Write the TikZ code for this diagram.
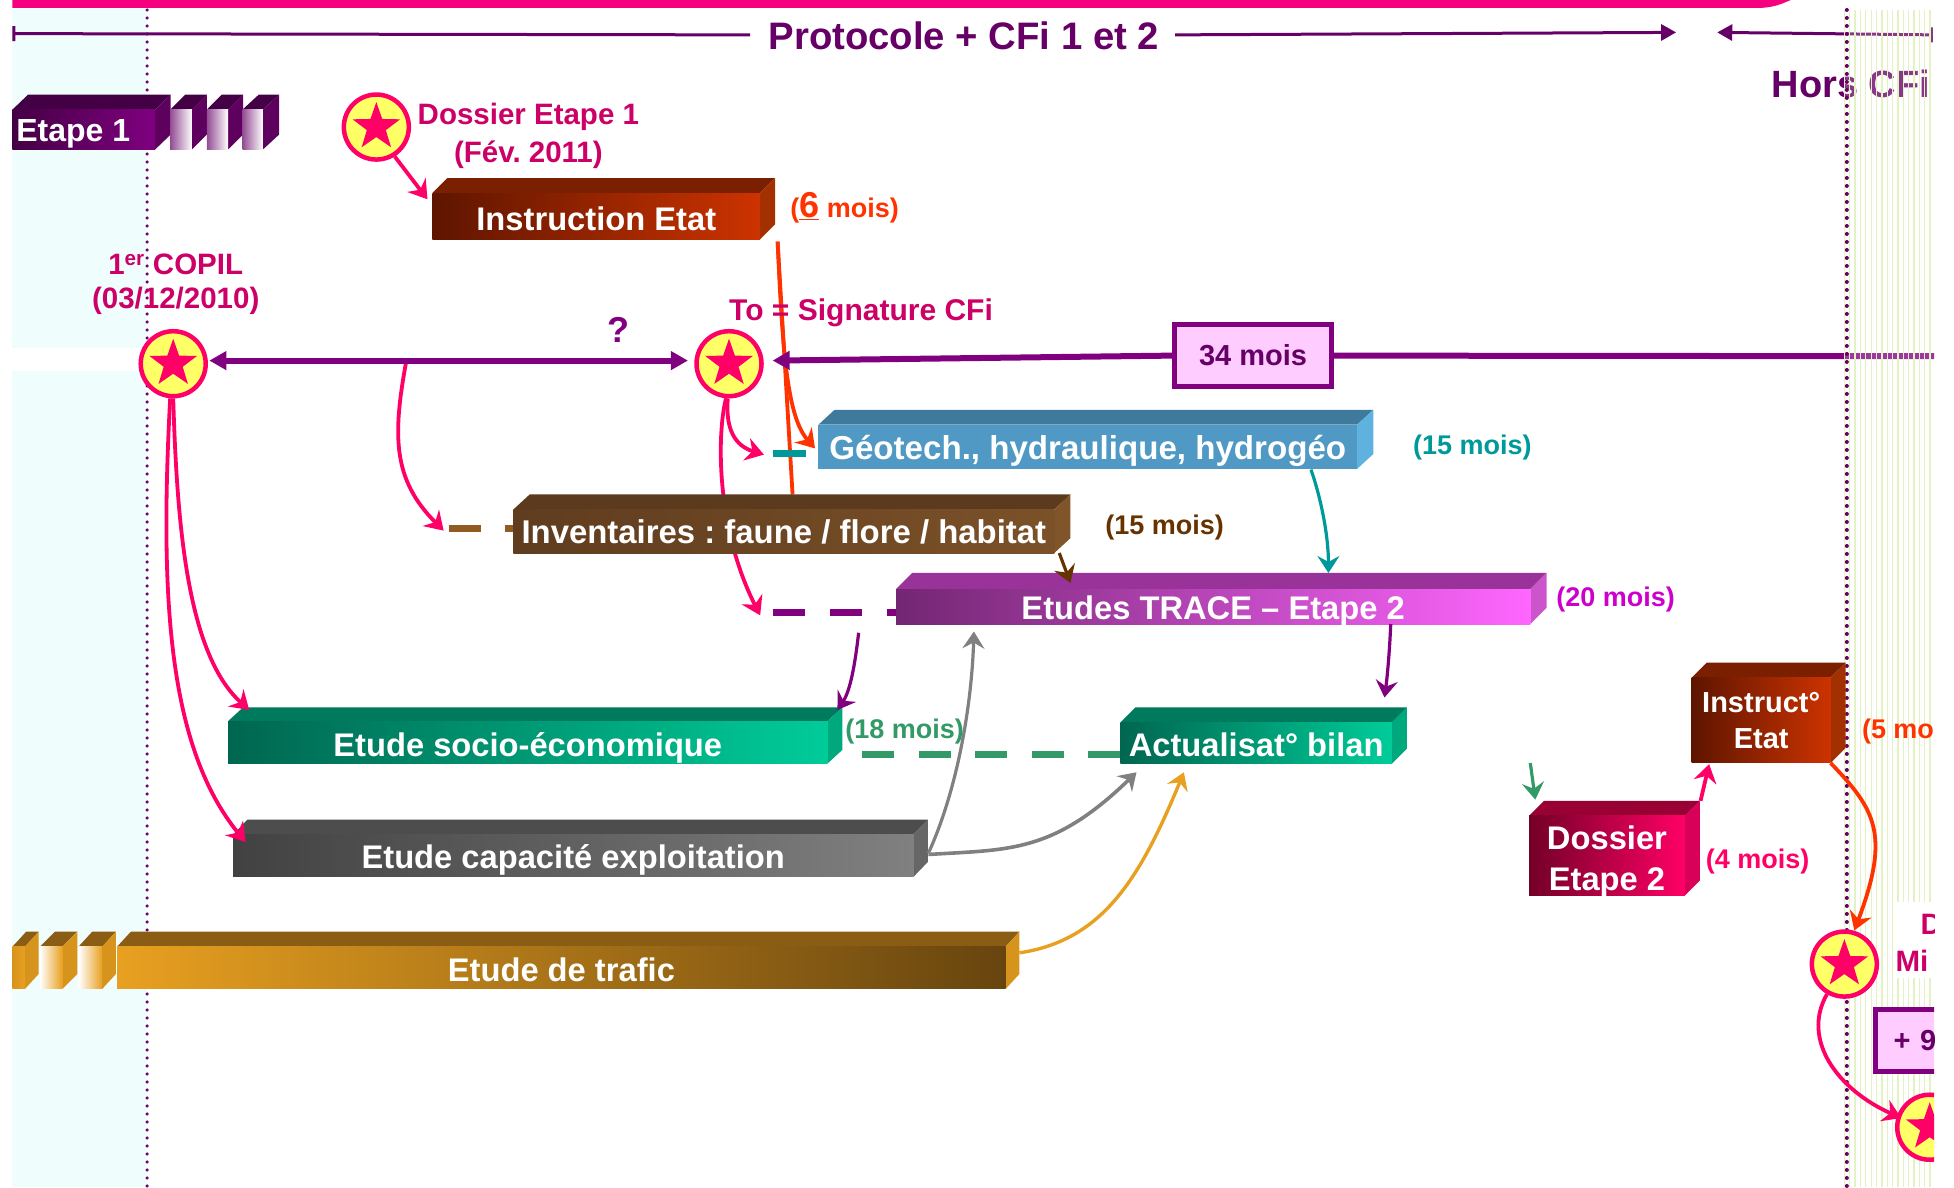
\documentclass[tikz,border=0pt]{standalone}
\usepackage{fontspec}
\setmainfont{Liberation Sans}
\usetikzlibrary{arrows.meta,shapes.geometric,calc}
\definecolor{cfiPink}{HTML}{FF0066}
\definecolor{cfiBarPink}{HTML}{F5007F}
\definecolor{cfiCrimson}{HTML}{CC0066}
\definecolor{cfiPlum}{HTML}{660066}
\definecolor{cfiPurple}{HTML}{800080}
\definecolor{cfiOrange}{HTML}{FF3300}
\definecolor{cfiTeal}{HTML}{009999}
\definecolor{cfiBrown}{HTML}{663300}
\definecolor{cfiGreen}{HTML}{339966}
\definecolor{cfiGold}{HTML}{E8A020}
\definecolor{cfiGray}{HTML}{808080}
\definecolor{cfiLilac}{HTML}{FFCCFF}
\definecolor{cfiViolet}{HTML}{CC00CC}
\definecolor{cfiYellow}{HTML}{FFFF66}
\definecolor{cfiCyan}{HTML}{EFFDFD}
\definecolor{cfiStripe}{HTML}{E4F1C2}
% face colours: T = top, S = side
\definecolor{instrT}{HTML}{7A2000}\definecolor{instrS}{HTML}{A33000}
\definecolor{geoT}{HTML}{3F7A9C}\definecolor{geoS}{HTML}{5FB2E0}
\definecolor{invT}{HTML}{5C3A1E}\definecolor{invS}{HTML}{80552A}
\definecolor{traceT}{HTML}{993399}\definecolor{traceS}{HTML}{CC55CC}
\definecolor{socioT}{HTML}{007A5C}\definecolor{socioS}{HTML}{00A87E}
\definecolor{capaT}{HTML}{4D4D4D}\definecolor{capaS}{HTML}{666666}
\definecolor{trafT}{HTML}{8A5C14}\definecolor{trafS}{HTML}{D6941C}
\definecolor{dosT}{HTML}{990033}\definecolor{dosS}{HTML}{D9005A}
\definecolor{etapT}{HTML}{440044}\definecolor{etapS}{HTML}{5E005E}
\definecolor{instrL}{HTML}{5E1500}\definecolor{instrR}{HTML}{CC3300}
\definecolor{geoF}{HTML}{4F99C4}
\definecolor{traceR}{HTML}{FF66FF}
\definecolor{socioL}{HTML}{006650}\definecolor{socioR}{HTML}{00CC99}
\newcommand\fs[1]{\fontsize{#1}{#1}\selectfont}
\newcommand\bshift{0}
\tikzset{
  instr/.style={shading=axis,left color=instrL,right color=instrR},
  geo/.style={fill=geoF},
  inv/.style={shading=axis,left color=invT!90!invS,right color=invS!85!invT},
  trace/.style={shading=axis,left color=traceT!75!black,middle color=traceT!80!traceS,right color=traceR},
  socio/.style={shading=axis,left color=socioL,right color=socioR},
  capa/.style={shading=axis,left color=capaT!85!black,right color=cfiGray},
  traf/.style={shading=axis,left color=cfiGold,middle color=cfiGold!75!trafT,right color=trafT!75!black},
  dos/.style={shading=axis,left color=dosT!75!black,right color=cfiPink},
  etap/.style={shading=axis,left color=etapT,right color=cfiPurple},
  barlabel/.style={text=white,font=\bfseries\fs{32.7},inner sep=0pt,align=center},
  smalllabel/.style={font=\bfseries\fs{27},inner sep=0pt},
  milestonetext/.style={text=cfiCrimson,font=\bfseries\fs{29.5},inner sep=0pt,align=center},
  disc/.style={circle,draw=cfiPink,line width=4.5pt,fill=cfiYellow,minimum size=65pt,inner sep=0pt},
  starmark/.style={star,star points=5,star point ratio=2.5,fill=cfiPink,minimum size=50pt,inner sep=0pt},
  durationbox/.style={draw=cfiPurple,line width=5pt,fill=cfiLilac,inner sep=0pt,text=cfiPlum,font=\bfseries\fs{29}},
  pinkarrow/.style={draw=cfiPink,line width=3.8pt,-{Stealth[length=18pt,width=23pt,inset=6pt]}},
  orangearrow/.style={draw=cfiOrange,line width=3.8pt,-{Stealth[length=18pt,width=23pt,inset=6pt]}},
  thinarrow/.style={line width=3.2pt,-{Stealth[length=17pt,width=22pt,inset=6pt]}},
  thickline/.style={draw=cfiPurple,line width=6pt},
  headline/.style={draw=cfiPlum,line width=3pt},
  cfidash/.style={line width=7pt},
  dotline/.style={draw=cfiPlum,line cap=round,dash pattern=on 0pt off 8pt},
  fadestripe/.style={draw=cfiStripe,line width=1.3pt},
}
% name, style, x0, x1, xside, ytop, yfront, ybottom, text
\newcommand\barbox[9]{%
  \fill[#2T] (#3,#7) -- (#3+#5-#4,#6) -- (#5,#6) -- (#4,#7) -- cycle;
  \fill[#2S] (#4,#7) -- (#5,#6) -- (#5,#8-#7+#6) -- (#4,#8) -- cycle;
  \path[#2] (#3,#7) rectangle (#4,#8);
  \node[barlabel] (#1) at ({(#3+#4)/2},{(#7+#8)/2+\bshift}) {#9};
}
\begin{document}
\frenchspacing
\begin{tikzpicture}[x=1.24617pt,y=-1.24554pt]
\useasboundingbox (0,0) rectangle (1568,953);
\begin{scope}
\clip (0,0) rectangle (1552,953);
% background bands
\fill[cfiCyan] (10,7) rectangle (118,279);
\fill[cfiCyan] (10,298) rectangle (118,953);
% top bar
\fill[cfiBarPink] (10,0) -- (1437,0) .. controls (1428,4) and (1422,6) .. (1412,6.4) -- (10,6.4) -- cycle;
% headline
\coordinate (headA) at (10,27);
\coordinate (headB) at (602,28);
\coordinate (headC) at (943,28);
\coordinate (headD) at (1345,26);
\coordinate (headE) at (1378,26);
\coordinate (headF) at (1551,28);
\draw[headline,{Bar[width=15pt]}-] (headA) -- (headB);
\draw[headline,-{Triangle[length=15pt,width=16pt]}] (headC) -- (headD);
\draw[headline,{Bar[width=15pt]}-{Triangle[length=15pt,width=16pt]}] (headF) -- (headE);
\node[inner sep=0pt,text=cfiPlum,font=\bfseries\fs{38.3}] (title) at (773.5,29) {Protocole + CFi 1 et 2};
\node[inner sep=0pt,text=cfiPlum,font=\bfseries\fs{38},anchor=east] (hors) at (1549,67) {Hors CFi};
% 34 months line, behind the band
\node[durationbox,minimum width=157pt,minimum height=62pt] (months) at (1005.5,285.5) {\raisebox{-1.5pt}{34 mois}};
\coordinate (lineEnd) at (1552,286);
\draw[thickline] (months.east) -- (lineEnd);
% right band
\fill[white,opacity=.22] (1480,8) rectangle (1552,953);
\foreach \x in {1480,1484.3,...,1552} \draw[fadestripe] (\x,8) -- (\x,953);
\fill[white] (1522,724) rectangle (1552,785);
% dotted verticals
\coordinate (dotLa) at (118,8);
\coordinate (dotLb) at (118,953);
\coordinate (dotRa) at (1482,8);
\coordinate (dotRb) at (1482,953);
\draw[dotline,line width=3.5pt] (dotLa) -- (dotLb);
\draw[dotline,line width=4pt] (dotRa) -- (dotRb);
% milestones
\node[disc] (s1) at (302,102) {};
\node[disc] (s2) at (139,292) {};
\node[disc] (s3) at (585,292) {};
\node[disc] (s4) at (1480,774) {};
\node[disc] (s5) at (1548.5,905) {};
% orange lines from Instruction Etat
\coordinate (orgStart) at (624,194);
\coordinate (orgBar) at (636,397);
\coordinate (orgTip) at (654,360);
\draw[draw=cfiOrange,line width=3.8pt] (orgStart) -- (orgBar);
\draw[orangearrow] (orgStart) .. controls (628,285) and (632,335) .. (orgTip);
% long pink curves
\coordinate (pkSocio) at (200,570);
\coordinate (pkCapa) at (197,676);
\coordinate (pkA) at (326,290);
\coordinate (pkInv) at (356,426);
\coordinate (pkGeo) at (613,365);
\coordinate (pkTrace) at (610,494);
\coordinate (s1Tip) at (343,160);
\draw[pinkarrow] (s1.-58) -- (s1Tip);
\draw[pinkarrow] (pkA) .. controls (315,350) and (315,385) .. (pkInv);
\draw[pinkarrow] (s3.268) .. controls (582,345) and (590,358) .. (pkGeo);
\draw[pinkarrow] (s3.265) .. controls (575,350) and (575,425) .. (pkTrace);
% purple timing arrows
\coordinate (copilR) at (168,289.5);
\coordinate (toL) at (552,289.5);
\coordinate (toR) at (620,289.5);
\draw[thickline,{Triangle[length=17pt,width=18pt]}-{Triangle[length=17pt,width=18pt]}] (copilR) -- (toL);
\draw[thickline,{Triangle[length=17pt,width=18pt]}-] (toR) -- (months.west);
% dashes
\coordinate (brownDa) at (360,424);
\coordinate (brownDb) at (412,424);
\coordinate (tealDa) at (620,364);
\coordinate (tealDb) at (647,364);
\coordinate (purDa) at (620,492);
\coordinate (purDb) at (719,492);
\coordinate (greenDa) at (692,605.5);
\coordinate (greenDb) at (899,605.5);
\draw[cfidash,draw=invS!85!orange,dash pattern=on 32pt off 24pt] (brownDa) -- (brownDb);
\draw[cfidash,draw=cfiTeal] (tealDa) -- (tealDb);
\draw[cfidash,draw=cfiPurple,dash pattern=on 32pt off 25pt] (purDa) -- (purDb);
\draw[cfidash,draw=cfiGreen,dash pattern=on 32pt off 24.5pt] (greenDa) -- (greenDb);
% bars
\renewcommand\bshift{2.5}
\barbox{instrBar}{instr}{347}{610}{622}{143}{155}{192}{Instruction Etat}
\renewcommand\bshift{3.5}
\barbox{geoBar}{geo}{656.7}{1089}{1102}{329}{341}{376.5}{\fs{33.1}Géotech., hydraulique, hydrogéo}
\renewcommand\bshift{0.5}
\barbox{invBar}{inv}{412}{846}{859}{397}{409}{444}{\fs{32.9}Inventaires : faune / flore / habitat}
\renewcommand\bshift{3.5}
\barbox{traceBar}{trace}{719}{1228}{1241}{460}{473}{501}{Etudes TRACE – Etape 2}
\renewcommand\bshift{4.5}
\barbox{socioBar}{socio}{183}{664}{676}{568}{579}{613}{Etude socio-économique}
\renewcommand\bshift{3.5}
\barbox{capaBar}{capa}{187}{733}{744.6}{658}{670}{704}{Etude capacité exploitation}
\renewcommand\bshift{2}
\barbox{trafBar}{traf}{94}{807}{818}{748}{760}{794}{Etude de trafic}
\renewcommand\bshift{1.5}
\barbox{bilanBar}{socio}{899}{1117}{1129}{568}{580}{613}{Actualisat° bilan}
\renewcommand\bshift{4.5}
\barbox{dosBar}{dos}{1227}{1352}{1364}{643}{655}{719}{Dossier\\[8pt]Etape 2}
\renewcommand\bshift{0.5}
\barbox{instr2Bar}{instr}{1357.5}{1469}{1481}{532}{544}{612.5}{\fs{29}Instruct°\\[3pt]\fs{29}Etat}
\renewcommand\bshift{0}
% Etape 1 bar and its broken tail
\barbox{etapBar}{etap}{10}{124.5}{137}{76}{88}{120}{}
\foreach \a/\b/\c in {136.6/154/166,166/183/195,194.6/211/224}{
  \fill[etapT] (\a,88) -- (\a+\c-\b,76) -- (\c,76) -- (\b,88) -- cycle;
  \fill[etapS] (\b,88) -- (\c,76) -- (\c,108) -- (\b,120) -- cycle;
  \path[shading=axis,left color=cfiPlum!70!white,right color=white] (\a,88) rectangle (\b,120);
}
\node[inner sep=0pt,text=white,font=\bfseries\fs{32},anchor=west] (etapText) at (13,107.5) {Etape 1};
% Etude de trafic broken head
\foreach \a/\b/\c/\t in {10/20/31/trafS,32/50/62/white,63/82/93/white}{
  \fill[trafT] (\a,760) -- (\a+\c-\b,748) -- (\c,748) -- (\b,760) -- cycle;
  \fill[trafS] (\b,760) -- (\c,748) -- (\c,782) -- (\b,794) -- cycle;
  \path[shading=axis,left color=\t,right color=cfiGold] (\a,760) rectangle (\b,794);
}
% connectors between bars
\draw[pinkarrow] (s2.270) .. controls (142,420) and (150,525) .. (pkSocio);
\draw[pinkarrow] (s2.265) .. controls (128,480) and (135,600) .. (pkCapa);
\coordinate (tealA) at (1052,377);
\coordinate (tealB) at (1066,460);
\coordinate (brnA) at (850,444);
\coordinate (brnB) at (859,468);
\coordinate (prpA) at (689,508);
\coordinate (prpB) at (672,570);
\coordinate (prpC) at (1116,501);
\coordinate (prpD) at (1111,560);
\coordinate (gryA) at (745,685);
\coordinate (gryB) at (781.5,507);
\coordinate (gryC) at (745,686);
\coordinate (gryD) at (912,620);
\coordinate (gldA) at (818,765);
\coordinate (gldB) at (950,620);
\coordinate (grnA) at (1228,612.6);
\coordinate (grnB) at (1232,642);
\coordinate (dosA) at (1364.6,643);
\coordinate (dosB) at (1371.5,613.5);
\coordinate (insA) at (1469,612.6);
\coordinate (insB) at (1488,747);
\coordinate (endB) at (1525.6,897.6);
\draw[thinarrow,draw=cfiTeal] (tealA) .. controls (1060,400) and (1066,430) .. (tealB);
\draw[thinarrow,draw=cfiBrown] (brnA) -- (brnB);
\draw[thinarrow,draw=cfiPurple] (prpA) .. controls (686,535) and (682,555) .. (prpB);
\draw[thinarrow,draw=cfiPurple] (prpC) .. controls (1115,525) and (1113,545) .. (prpD);
\draw[thinarrow,draw=cfiGray] (gryA) .. controls (770,630) and (780,560) .. (gryB);
\draw[thinarrow,draw=cfiGray,line width=3.6pt] (gryC) .. controls (810,682) and (845,685) .. (gryD);
\draw[thinarrow,draw=cfiGold,line width=3.4pt] (gldA) .. controls (885,755) and (915,705) .. (gldB);
\draw[thinarrow,draw=cfiGreen] (grnA) -- (grnB);
\draw[pinkarrow] (dosA) -- (dosB);
\draw[orangearrow] (insA) .. controls (1505,650) and (1517,670) .. (insB);
\draw[pinkarrow] (s4.-120) .. controls (1445,835) and (1475,875) .. (endB);
% star marks
\node[starmark] (m1) at (s1) {};
\node[starmark] (m2) at (s2) {};
\node[starmark] (m3) at (s3) {};
\node[starmark] (m4) at (s4) {};
\node[starmark] (m5) at (s5) {};
% texts
\node[milestonetext] (d1) at (424,94) {Dossier Etape 1};
\node[milestonetext] (d2) at (424,124) {(Fév. 2011)};
\node[milestonetext] (c1) at (141,212) {1\textsuperscript{er} COPIL};
\node[milestonetext] (c2) at (141,241.5) {(03/12/2010)};
\node[milestonetext,anchor=west,font=\bfseries\fs{30}] (to) at (585,251) {To = Signature CFi};
\node[inner sep=0pt,text=cfiPurple,font=\bfseries\fs{36}] (qm) at (496,264.5) {?};
\node[smalllabel,text=cfiOrange,anchor=west] (six) at (634,167) {(\fs{36}\underline{6}\fs{27} mois)};
\node[smalllabel,text=cfiTeal] (l1) at (1181.5,359) {(15 mois)};
\node[smalllabel,text=cfiBrown] (l2) at (934.5,423.5) {(15 mois)};
\node[smalllabel,text=cfiViolet] (l3) at (1296.5,481.5) {(20 mois)};
\node[smalllabel,text=cfiGreen] (l4) at (726,587) {(18 mois)};
\node[smalllabel,text=cfiPink] (l5) at (1410.5,691.5) {(4 mois)};
\node[smalllabel,text=cfiOrange,anchor=west] (l6) at (1494,587) {(5 mo};
\node[milestonetext,anchor=west] (dd) at (1541,742) {D};
\node[milestonetext,anchor=west] (mm) at (1521,771) {Mi};
\node[durationbox,anchor=west,minimum width=80pt,minimum height=62pt,text width=72pt] (plus) at (1503,835) {\hspace*{14pt}+ 9};
\end{scope}
\end{tikzpicture}
\end{document}
